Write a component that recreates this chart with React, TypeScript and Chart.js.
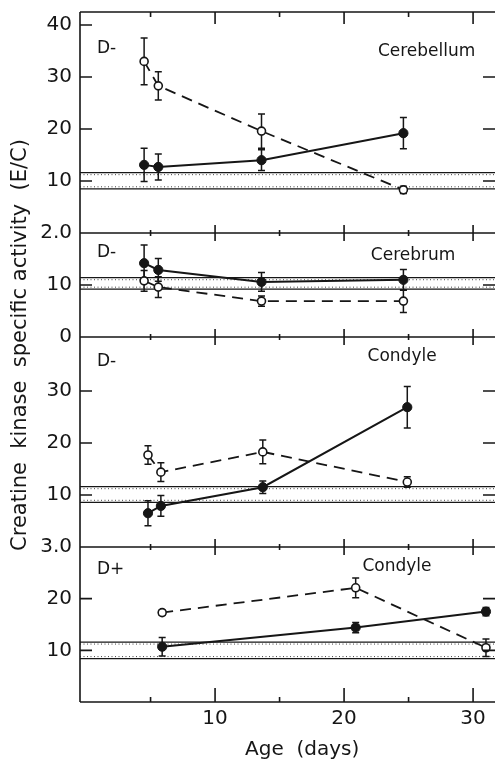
import React, { useEffect, useRef } from 'react';
import { Chart, registerables } from 'chart.js';

Chart.register(...registerables);

// ---------- data ----------
const panelTissues = ['Cerebellum', 'Cerebrum', 'Condyle', 'Condyle'];
const panelDiets = ['D-', 'D-', 'D-', 'D+'];
const panelYMax = [4.25, 2, 4.04, 3];

const ticksA = [1, 2, 3, 4];
const tickLabelsA = ['10', '20', '30', '40'];
const ticksB = [0, 1, 2];
const tickLabelsB = ['0', '10', '2.0'];
const ticksC = [1, 2, 3];
const tickLabelsC = ['10', '20', '30'];
const ticksD = [1, 2, 3];
const tickLabelsD = ['10', '20', '3.0'];

const xTicks = [10, 20, 30];
const xTickLabels = ['10', '20', '30'];
const xMinorTicks = [5, 15, 25];

// Cerebellum, D-
const cerebellumDays = [4.5, 5.6, 13.6, 24.6];
const cerebellumOpen = [3.3, 2.83, 1.96, 0.83];
const cerebellumOpenErr = [0.45, 0.27, 0.33, 0.07];
const cerebellumFilled = [1.31, 1.27, 1.4, 1.92];
const cerebellumFilledErr = [0.32, 0.25, 0.2, 0.3];

// Cerebrum, D-
const cerebrumDays = [4.5, 5.6, 13.6, 24.6];
const cerebrumOpen = [1.08, 0.96, 0.69, 0.69];
const cerebrumOpenErr = [0.2, 0.2, 0.1, 0.22];
const cerebrumFilled = [1.42, 1.29, 1.06, 1.1];
const cerebrumFilledErr = [0.35, 0.22, 0.18, 0.2];

// Condyle, D-
const condyleMinusDays = [4.8, 5.8, 13.7, 24.9];
const condyleMinusOpen = [1.77, 1.44, 1.83, 1.25];
const condyleMinusOpenErr = [0.18, 0.18, 0.23, 0.1];
const condyleMinusFilled = [0.65, 0.79, 1.15, 2.69];
const condyleMinusFilledErr = [0.24, 0.2, 0.12, 0.4];

// Condyle, D+
const condylePlusDays = [5.9, 20.9, 31];
const condylePlusOpen = [1.73, 2.21, 1.05];
const condylePlusOpenErr = [0.05, 0.19, 0.17];
const condylePlusFilled = [1.07, 1.44, 1.75];
const condylePlusFilledErr = [0.18, 0.1, 0.08];

// normal range (upper / lower) per panel
const normalUpper = [1.16, 1.14, 1.16, 1.16];
const normalLower = [0.85, 0.92, 0.86, 0.84];

// right-side inner ticks per panel
const rightTicksA = [1, 2, 3];
const rightTicksB = [1];
const rightTicksC = [1, 2, 3];
const rightTicksD = [1, 2];

// ---------- layout / style ----------
const W = 495;
const H = 762;
const INK = '#161616';
const FONT = 'DejaVu Sans';
const X_MIN = -0.47;
const X_MAX = 31.7;
const PANEL_WEIGHTS = [221, 104, 210, 155];
const dietLabelPos = [
  { x: 0.85, y: 3.54 },
  { x: 0.85, y: 1.62 },
  { x: 0.85, y: 3.57 },
  { x: 0.85, y: 2.56 },
];
const tissueLabelPos = [
  { x: 26.4, y: 3.48 },
  { x: 25.35, y: 1.56 },
  { x: 24.5, y: 3.67 },
  { x: 24.1, y: 2.62 },
];

const axisIds = ['yA', 'yB', 'yC', 'yD'];
const panelTicks = [ticksA, ticksB, ticksC, ticksD];
const panelTickLabels = [tickLabelsA, tickLabelsB, tickLabelsC, tickLabelsD];
const panelRightTicks = [rightTicksA, rightTicksB, rightTicksC, rightTicksD];
const panelSeries = [
  { days: cerebellumDays, open: cerebellumOpen, openErr: cerebellumOpenErr, filled: cerebellumFilled, filledErr: cerebellumFilledErr },
  { days: cerebrumDays, open: cerebrumOpen, openErr: cerebrumOpenErr, filled: cerebrumFilled, filledErr: cerebrumFilledErr },
  { days: condyleMinusDays, open: condyleMinusOpen, openErr: condyleMinusOpenErr, filled: condyleMinusFilled, filledErr: condyleMinusFilledErr },
  { days: condylePlusDays, open: condylePlusOpen, openErr: condylePlusOpenErr, filled: condylePlusFilled, filledErr: condylePlusFilledErr },
];

function buildDatasets() {
  const out: any[] = [];
  panelSeries.forEach((s, p) => {
    out.push({
      label: panelTissues[p] + ' ' + panelDiets[p] + ' filled',
      data: s.days.map((d, i) => ({ x: d, y: s.filled[i] })),
      errs: s.filledErr,
      yAxisID: axisIds[p],
      borderColor: INK,
      borderWidth: 2,
      pointRadius: 4.6,
      pointBackgroundColor: INK,
      pointBorderColor: INK,
      pointBorderWidth: 1,
      tension: 0,
    });
    out.push({
      label: panelTissues[p] + ' ' + panelDiets[p] + ' open',
      data: s.days.map((d, i) => ({ x: d, y: s.open[i] })),
      errs: s.openErr,
      yAxisID: axisIds[p],
      borderColor: INK,
      borderWidth: 1.8,
      borderDash: [11, 7],
      pointRadius: 4,
      pointBackgroundColor: '#ffffff',
      pointBorderColor: INK,
      pointBorderWidth: 1.6,
      tension: 0,
    });
  });
  return out;
}

function buildYScale(p: number) {
  const ticks = panelTicks[p];
  const labels = panelTickLabels[p];
  return {
    type: 'linear',
    position: 'left',
    stack: 'panels',
    stackWeight: PANEL_WEIGHTS[p],
    min: 0,
    max: panelYMax[p],
    offset: false,
    grid: { display: false, drawTicks: false },
    border: { display: false },
    afterBuildTicks: (scale: any) => {
      scale.ticks = ticks.map((v) => ({ value: v }));
    },
    afterFit: (scale: any) => {
      scale.width = 80;
      scale.paddingTop = 0;
      scale.paddingBottom = 0;
    },
    ticks: {
      autoSkip: false,
      padding: 8,
      color: INK,
      font: { family: FONT, size: 20 },
      callback: (value: number) => {
        const i = ticks.indexOf(value);
        return i >= 0 ? labels[i] : '';
      },
    },
  };
}

const errorBarPlugin = {
  id: 'errorBars',
  beforeDatasetsDraw(chart: any) {
    const ctx = chart.ctx;
    ctx.save();
    ctx.strokeStyle = INK;
    ctx.lineWidth = 1.5;
    chart.data.datasets.forEach((ds: any, di: number) => {
      const meta = chart.getDatasetMeta(di);
      const ys = chart.scales[ds.yAxisID];
      meta.data.forEach((el: any, i: number) => {
        const v = ds.data[i].y;
        const e = ds.errs[i];
        const yt = ys.getPixelForValue(v + e);
        const yb = ys.getPixelForValue(v - e);
        ctx.beginPath();
        ctx.moveTo(el.x, yt);
        ctx.lineTo(el.x, yb);
        ctx.moveTo(el.x - 3.5, yt);
        ctx.lineTo(el.x + 3.5, yt);
        ctx.moveTo(el.x - 3.5, yb);
        ctx.lineTo(el.x + 3.5, yb);
        ctx.stroke();
      });
    });
    ctx.restore();
  },
};

const bandPlugin = {
  id: 'normalBand',
  beforeDatasetsDraw(chart: any) {
    const ctx = chart.ctx;
    const { left, right } = chart.chartArea;
    ctx.save();
    axisIds.forEach((id, p) => {
      const ys = chart.scales[id];
      const yu = ys.getPixelForValue(normalUpper[p]);
      const yl = ys.getPixelForValue(normalLower[p]);
      ctx.strokeStyle = INK;
      ctx.lineWidth = 1.3;
      ctx.setLineDash([]);
      ctx.beginPath();
      ctx.moveTo(left, yu);
      ctx.lineTo(right, yu);
      ctx.moveTo(left, yl);
      ctx.lineTo(right, yl);
      ctx.stroke();
      ctx.strokeStyle = '#444';
      ctx.lineWidth = 1;
      ctx.setLineDash([1, 2.5]);
      ctx.beginPath();
      ctx.moveTo(left, yu + 2);
      ctx.lineTo(right, yu + 2);
      ctx.moveTo(left, yl - 2);
      ctx.lineTo(right, yl - 2);
      ctx.stroke();
    });
    ctx.restore();
  },
};

const framePlugin = {
  id: 'frame',
  afterDraw(chart: any) {
    const ctx = chart.ctx;
    const { left, right, top, bottom } = chart.chartArea;
    const xs = chart.scales.x;
    ctx.save();
    ctx.strokeStyle = INK;
    ctx.lineWidth = 1.6;
    ctx.setLineDash([]);
    ctx.beginPath();
    // outer frame (left, top, bottom)
    ctx.moveTo(left, top);
    ctx.lineTo(left, bottom);
    ctx.moveTo(left, top);
    ctx.lineTo(right, top);
    ctx.moveTo(left, bottom);
    ctx.lineTo(right, bottom);
    // top ticks (downward) and bottom ticks (upward)
    xTicks.forEach((v) => {
      const x = xs.getPixelForValue(v);
      ctx.moveTo(x, top);
      ctx.lineTo(x, top + 12);
      ctx.moveTo(x, bottom);
      ctx.lineTo(x, bottom - 14);
    });
    xMinorTicks.forEach((v) => {
      const x = xs.getPixelForValue(v);
      ctx.moveTo(x, top);
      ctx.lineTo(x, top + 5);
      ctx.moveTo(x, bottom);
      ctx.lineTo(x, bottom - 5);
    });
    // panel separators with crosses
    axisIds.forEach((id, p) => {
      const ys = chart.scales[id];
      if (p < axisIds.length - 1) {
        const y = ys.getPixelForValue(0);
        ctx.moveTo(left, y);
        ctx.lineTo(right, y);
        xTicks.forEach((v) => {
          const x = xs.getPixelForValue(v);
          ctx.moveTo(x, y - 8);
          ctx.lineTo(x, y + 8);
        });
        xMinorTicks.forEach((v) => {
          const x = xs.getPixelForValue(v);
          ctx.moveTo(x, y - 3);
          ctx.lineTo(x, y + 3);
        });
      }
      // left inner ticks
      panelTicks[p].forEach((v) => {
        const y = ys.getPixelForValue(v);
        ctx.moveTo(left, y);
        ctx.lineTo(left + 12, y);
      });
      // right inner ticks
      panelRightTicks[p].forEach((v) => {
        const y = ys.getPixelForValue(v);
        ctx.moveTo(right - 12, y);
        ctx.lineTo(right, y);
      });
    });
    ctx.stroke();

    // panel texts
    ctx.fillStyle = INK;
    ctx.font = `17px "${FONT}"`;
    ctx.textBaseline = 'middle';
    axisIds.forEach((id, p) => {
      const ys = chart.scales[id];
      ctx.textAlign = 'left';
      ctx.fillText(panelDiets[p], xs.getPixelForValue(dietLabelPos[p].x), ys.getPixelForValue(dietLabelPos[p].y));
      ctx.textAlign = 'center';
      ctx.fillText(panelTissues[p], xs.getPixelForValue(tissueLabelPos[p].x), ys.getPixelForValue(tissueLabelPos[p].y));
    });

    // axis titles
    ctx.font = `20px "${FONT}"`;
    ctx.textAlign = 'center';
    ctx.fillText('Age  (days)', xs.getPixelForValue(16.75), bottom + 48);
    ctx.save();
    ctx.translate(21, 345);
    ctx.rotate(-Math.PI / 2);
    ctx.font = `21px "${FONT}"`;
    ctx.fillText('Creatine  kinase  specific activity  (E/C)', 0, 0);
    ctx.restore();
    ctx.restore();
  },
};

export default function App() {
  const ref = useRef<HTMLCanvasElement | null>(null);
  useEffect(() => {
    if (!ref.current) return;
    const scales: any = {
      x: {
        type: 'linear',
        position: 'bottom',
        min: X_MIN,
        max: X_MAX,
        grid: { display: false, drawTicks: false },
        border: { display: false },
        afterBuildTicks: (scale: any) => {
          scale.ticks = xTicks.map((v) => ({ value: v }));
        },
        afterFit: (scale: any) => {
          scale.height = 60;
          scale.paddingLeft = 0;
          scale.paddingRight = 0;
        },
        ticks: {
          autoSkip: false,
          maxRotation: 0,
          padding: 5,
          color: INK,
          font: { family: FONT, size: 20 },
          callback: (value: number) => {
            const i = xTicks.indexOf(value);
            return i >= 0 ? xTickLabels[i] : '';
          },
        },
      },
    };
    // defined bottom-first so that the stack is laid out top-down A, B, C, D
    for (let p = axisIds.length - 1; p >= 0; p--) {
      scales[axisIds[p]] = buildYScale(p);
    }
    const chart = new Chart(ref.current, {
      type: 'line',
      data: { datasets: buildDatasets() },
      options: {
        responsive: false,
        animation: false,
        devicePixelRatio: 1,
        layout: { autoPadding: false, padding: { top: 12, right: 0, bottom: 0, left: 0 } },
        plugins: { legend: { display: false }, tooltip: { enabled: false } },
        scales,
      },
      plugins: [bandPlugin, errorBarPlugin, framePlugin],
    } as any);
    return () => chart.destroy();
  }, []);
  return (
    <div style={{ position: 'fixed', left: 0, top: 0, width: W, height: H, background: '#fff' }}>
      <canvas ref={ref} width={W} height={H} />
    </div>
  );
}
